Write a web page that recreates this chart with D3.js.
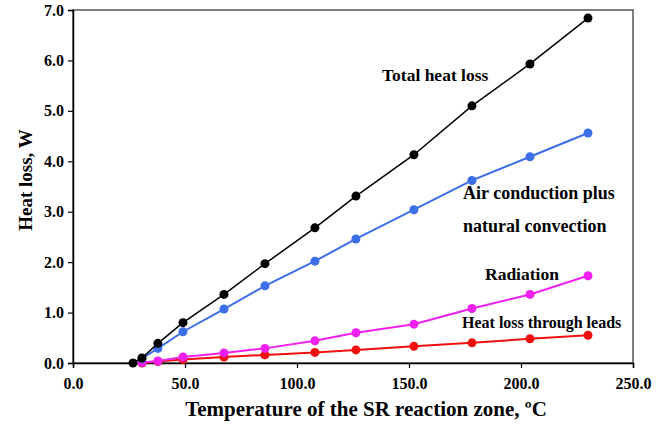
<!DOCTYPE html>
<html>
<head>
<meta charset="utf-8">
<script src="https://cdn.jsdelivr.net/npm/d3@7"></script>
<style>
  body { margin: 0; background: #fff; }
  text { font-family: "Liberation Serif", "Times New Roman", serif; font-weight: bold; }
</style>
</head>
<body>
<script>
// reaction zone temperature, C
var temps = [26.8, 30.8, 37.9, 49.1, 67.4, 85.7, 108, 126.3, 152.2, 178.1, 204, 229.9];

var totalLoss = [0.0, 0.10, 0.39, 0.80, 1.36, 1.97, 2.68, 3.31, 4.13, 5.10, 5.93, 6.84];
var airLoss   = [null, 0.09, 0.29, 0.62, 1.07, 1.53, 2.02, 2.46, 3.04, 3.62, 4.09, 4.56];
var radLoss   = [null, 0.01, 0.04, 0.12, 0.20, 0.29, 0.44, 0.60, 0.77, 1.08, 1.36, 1.73];
var leadLoss  = [null, 0.0, 0.03, 0.07, 0.12, 0.16, 0.21, 0.26, 0.33, 0.40, 0.48, 0.55];

var xTicks = [0, 50, 100, 150, 200, 250];
var yTicks = [0, 1, 2, 3, 4, 5, 6, 7];

var width = 663, height = 425;
var plotLeft = 73, plotRight = 633, plotTop = 10, plotBottom = 363;

var svg = d3.select('body').append('svg')
  .attr('width', width)
  .attr('height', height);

var x = d3.scaleLinear().domain([0, 250]).range([plotLeft, plotRight]);
var y = d3.scaleLinear().domain([0, 7]).range([plotBottom, plotTop]);

// frame
svg.append('rect')
  .attr('x', plotLeft).attr('y', plotTop)
  .attr('width', plotRight - plotLeft).attr('height', plotBottom - plotTop)
  .attr('fill', 'none')
  .attr('stroke', '#555')
  .attr('stroke-width', 1.5);

var xAxis = svg.append('g')
  .attr('transform', 'translate(0,' + plotBottom + ')')
  .call(d3.axisBottom(x).tickValues(xTicks).tickFormat(d3.format('.1f')).tickSize(5).tickPadding(10));

var yAxis = svg.append('g')
  .attr('transform', 'translate(' + plotLeft + ',0)')
  .call(d3.axisLeft(y).tickValues(yTicks).tickFormat(d3.format('.1f')).tickSize(5).tickPadding(4));

[xAxis, yAxis].forEach(function(ax) {
  ax.select('.domain').attr('stroke', '#000').attr('stroke-width', 1.5);
  ax.selectAll('.tick line').attr('stroke', '#000').attr('stroke-width', 1.2);
  ax.selectAll('.tick text')
    .attr('fill', '#000')
    .style('font-family', '"Liberation Serif", serif')
    .style('font-weight', 'bold')
    .style('font-size', '16px');
});

var series = [
  {name: 'leads', values: leadLoss, color: '#f01010', width: 2, r: 4.5},
  {name: 'rad', values: radLoss, color: '#f020f0', width: 2, r: 4.5},
  {name: 'air', values: airLoss, color: '#3c6ee8', width: 2, r: 4.5},
  {name: 'total', values: totalLoss, color: '#000', width: 1.5, r: 4.5}
];

var line = d3.line()
  .defined(function(d) { return d.v !== null; })
  .x(function(d) { return x(d.t); })
  .y(function(d) { return y(d.v); });

series.forEach(function(s) {
  var pts = temps.map(function(t, i) { return {t: t, v: s.values[i]}; });
  svg.append('path')
    .datum(pts)
    .attr('d', line)
    .attr('fill', 'none')
    .attr('stroke', s.color)
    .attr('stroke-width', s.width);
  svg.selectAll('circle.' + s.name)
    .data(pts.filter(function(d) { return d.v !== null; }))
    .enter().append('circle')
    .attr('class', s.name)
    .attr('cx', function(d) { return x(d.t); })
    .attr('cy', function(d) { return y(d.v); })
    .attr('r', s.r)
    .attr('fill', s.color);
});

// annotations
var notes = [
  {text: 'Total heat loss', x: 382, y: 81, size: 17.5},
  {text: 'Air conduction plus', x: 463, y: 199, size: 18},
  {text: 'natural convection', x: 463, y: 232, size: 18},
  {text: 'Radiation', x: 485, y: 280, size: 17.5},
  {text: 'Heat loss through leads', x: 462, y: 328, size: 16}
];
svg.selectAll('text.note')
  .data(notes)
  .enter().append('text')
  .attr('class', 'note')
  .attr('x', function(d) { return d.x; })
  .attr('y', function(d) { return d.y; })
  .style('font-size', function(d) { return d.size + 'px'; })
  .text(function(d) { return d.text; });

svg.append('text')
  .attr('x', 366)
  .attr('y', 416)
  .attr('text-anchor', 'middle')
  .style('font-size', '21px')
  .text('Temperature of the SR reaction zone, ºC');

svg.append('text')
  .attr('transform', 'translate(32,180) rotate(-90)')
  .attr('text-anchor', 'middle')
  .style('font-size', '19px')
  .text('Heat loss, W');
</script>
</body>
</html>
